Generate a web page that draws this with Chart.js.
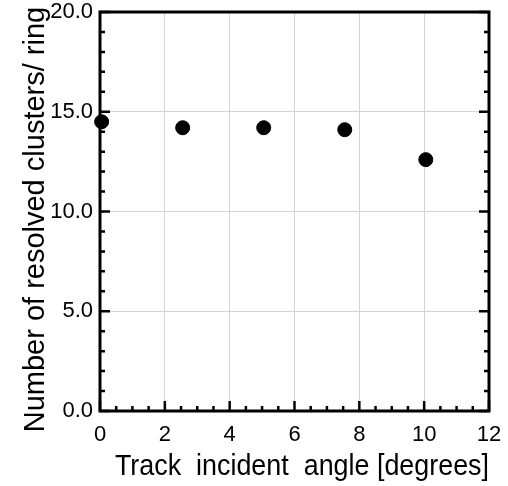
<!DOCTYPE html>
<html>
<head>
<meta charset="utf-8">
<script src="https://cdn.jsdelivr.net/npm/chart.js@4.4.0/dist/chart.umd.min.js"></script>
<style>
  html, body { margin: 0; padding: 0; background: #fff; }
</style>
</head>
<body>
<canvas id="chart" width="508" height="486"></canvas>
<script>
// data
var angles = [0.05, 2.55, 5.05, 7.55, 10.05];
var clusters = [14.5, 14.2, 14.2, 14.1, 12.6];
var xTicks = [0, 2, 4, 6, 8, 10, 12];
var yTicks = [0, 5, 10, 15, 20];
var xMinorStep = 0.5;
var yMinorStep = 1;

var fontFamily = "'Liberation Sans', Arial, Helvetica, sans-serif";

// frame + inward tick marks, like the original plot
var framePlugin = {
  id: 'frame',
  beforeDatasetsDraw: function(chart) {
    var ctx = chart.ctx;
    var a = chart.chartArea;
    var xs = chart.scales.x, ys = chart.scales.y;
    ctx.save();
    ctx.strokeStyle = '#000';
    ctx.lineCap = 'butt';

    // y ticks on left and right
    ctx.lineWidth = 2.5;
    for (var v = ys.min; v <= ys.max + 1e-9; v += yMinorStep) {
      var py = ys.getPixelForValue(v);
      var len = (Math.abs(v % 5) < 1e-9) ? 10 : 5;
      ctx.beginPath();
      ctx.moveTo(a.left, py); ctx.lineTo(a.left + len, py);
      ctx.moveTo(a.right, py); ctx.lineTo(a.right - len, py);
      ctx.stroke();
    }
    // x ticks on bottom
    for (var u = xs.min; u <= xs.max + 1e-9; u += xMinorStep) {
      var px = xs.getPixelForValue(u);
      var l2 = (Math.abs(u % 2) < 1e-9) ? 10 : 5;
      ctx.beginPath();
      ctx.moveTo(px, a.bottom); ctx.lineTo(px, a.bottom - l2);
      ctx.stroke();
    }

    ctx.lineWidth = 3;
    ctx.strokeRect(a.left, a.top, a.right - a.left, a.bottom - a.top);
    ctx.restore();
  }
};

// keep the plot box where the original has it, labels may overhang
function noOverhang(scale) {
  scale.paddingTop = 0;
  scale.paddingBottom = 0;
  scale.paddingLeft = 0;
  scale.paddingRight = 0;
}

new Chart(document.getElementById('chart'), {
  type: 'scatter',
  data: {
    datasets: [{
      label: 'clusters',
      data: angles.map(function(x, i) { return { x: x, y: clusters[i] }; }),
      backgroundColor: '#000',
      borderColor: '#000',
      pointRadius: 7,
      pointHoverRadius: 7,
      clip: false
    }]
  },
  plugins: [framePlugin],
  options: {
    responsive: false,
    animation: false,
    events: [],
    layout: { padding: { top: 12, right: 19, left: 0, bottom: 0 } },
    plugins: {
      legend: { display: false },
      tooltip: { enabled: false }
    },
    scales: {
      x: {
        type: 'linear',
        min: 0,
        max: 12,
        afterBuildTicks: function(scale) {
          scale.ticks = xTicks.map(function(v) { return { value: v }; });
        },
        afterFit: function(scale) { scale.height = 75; noOverhang(scale); },
        border: { display: false },
        grid: { color: '#d4d4d4', lineWidth: 1, drawTicks: false },
        ticks: {
          color: '#000',
          padding: 11,
          maxRotation: 0,
          font: { family: fontFamily, size: 22 },
          callback: function(v) { return String(v); }
        },
        title: {
          display: true,
          text: '  Track  incident  angle [degrees]',
          color: '#000',
          font: { family: fontFamily, size: 29 },
          padding: { top: 0, bottom: 2 }
        }
      },
      y: {
        type: 'linear',
        min: 0,
        max: 20,
        afterBuildTicks: function(scale) {
          scale.ticks = yTicks.map(function(v) { return { value: v }; });
        },
        afterFit: function(scale) { scale.width = 100; noOverhang(scale); },
        border: { display: false },
        grid: { color: '#d4d4d4', lineWidth: 1, drawTicks: false },
        ticks: {
          color: '#000',
          padding: 7,
          font: { family: fontFamily, size: 22 },
          callback: function(v) { return Number(v).toFixed(1); }
        },
        title: {
          display: true,
          text: 'Number of resolved clusters/ ring  ',
          color: '#000',
          font: { family: fontFamily, size: 29 },
          padding: { top: 19, bottom: 0 }
        }
      }
    }
  }
});
</script>
</body>
</html>
